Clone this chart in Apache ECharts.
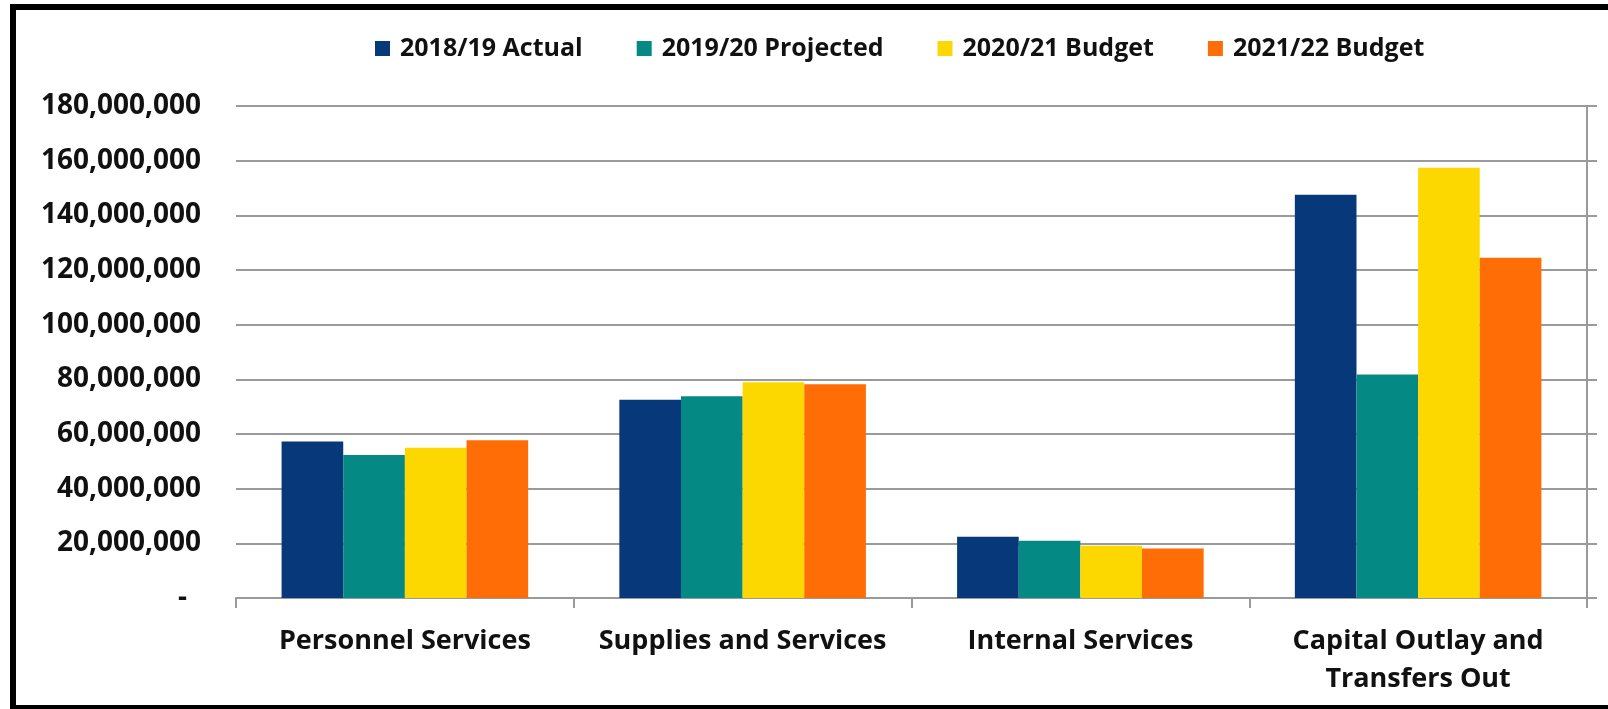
<!DOCTYPE html>
<html>
<head>
<meta charset="utf-8">
<title>Expenditures by Category</title>
<script src="https://cdn.jsdelivr.net/npm/echarts@6/dist/echarts.min.js"></script>
<style>
  html, body { margin: 0; padding: 0; background: #ffffff; }
  #chart { width: 1608px; height: 709px; }
</style>
</head>
<body>
<div id="chart"></div>
<script>
// Expenditure categories (x axis)
const categories = [
  'Personnel Services',
  'Supplies and Services',
  'Internal Services',
  'Capital Outlay and\nTransfers Out'
];

// Series names shown in the legend
const seriesNames = ['2018/19 Actual', '2019/20 Projected', '2020/21 Budget', '2021/22 Budget'];

// Amounts per category, one array per fiscal year
const actual1819    = [57300000, 72500000, 22400000, 147500000];
const projected1920 = [52300000, 73800000, 20900000, 81800000];
const budget2021    = [55000000, 78900000, 19100000, 157400000];
const budget2122    = [57700000, 78200000, 18100000, 124500000];

// Value axis range
const yMin = 0;
const yMax = 180000000;
const yStep = 20000000;

const seriesData = [actual1819, projected1920, budget2021, budget2122];
const colors = ['#07387A', '#048985', '#FDD800', '#FE6D06'];

const FONT = "'Open Sans', 'Liberation Sans', sans-serif";
const gridColor = '#9a9a9a';

const chart = echarts.init(document.getElementById('chart'), null, { renderer: 'canvas' });

const option = {
  backgroundColor: '#ffffff',
  animation: false,
  color: colors,
  graphic: [{
    type: 'rect',
    silent: true,
    z: 100,
    shape: { x: 13, y: 7, width: 1620, height: 701 },
    style: { fill: 'none', stroke: '#000000', lineWidth: 6 }
  }],
  legend: {
    left: 370,
    top: 31,
    icon: 'rect',
    itemWidth: 15,
    itemHeight: 15,
    itemGap: 54,
    selectedMode: false,
    textStyle: {
      fontFamily: FONT,
      fontWeight: 'bold',
      fontSize: 25,
      color: '#111111',
      padding: [0, 0, 0, 5]
    },
    data: seriesNames
  },
  grid: {
    left: 236,
    right: 21,
    top: 106,
    bottom: 111,
    containLabel: false
  },
  xAxis: {
    type: 'category',
    data: categories,
    boundaryGap: true,
    axisLine: { show: true, lineStyle: { color: gridColor, width: 2 } },
    axisTick: { show: true, alignWithLabel: false, length: 10, lineStyle: { color: gridColor, width: 2 } },
    axisLabel: {
      interval: 0,
      margin: 24,
      fontFamily: FONT,
      fontWeight: 'bold',
      fontSize: 27,
      lineHeight: 38,
      color: '#111111'
    }
  },
  yAxis: [{
    type: 'value',
    position: 'left',
    min: yMin,
    max: yMax,
    interval: yStep,
    axisLine: { show: false },
    axisTick: { show: false },
    splitLine: { show: true, lineStyle: { color: gridColor, width: 2 } },
    axisLabel: {
      margin: 35,
      fontFamily: FONT,
      fontWeight: 'bold',
      fontSize: 28,
      color: '#111111',
      formatter: function (v) {
        if (v === 0) return '{z|-}';
        return v.toLocaleString('en-US');
      },
      rich: {
        z: {
          fontFamily: FONT,
          fontWeight: 'bold',
          fontSize: 28,
          color: '#111111',
          padding: [0, 14, 0, 0]
        }
      }
    }
  }, {
    type: 'value',
    position: 'right',
    min: yMin,
    max: yMax,
    interval: yStep,
    axisLine: { show: true, lineStyle: { color: gridColor, width: 2 } },
    axisTick: { show: true, inside: false, length: 10, lineStyle: { color: gridColor, width: 2 } },
    axisLabel: { show: false },
    splitLine: { show: false }
  }],
  series: seriesNames.map(function (name, i) {
    return {
      name: name,
      type: 'bar',
      yAxisIndex: 0,
      data: seriesData[i],
      barGap: '0%',
      barCategoryGap: '27%',
      itemStyle: { color: colors[i] }
    };
  })
};

chart.setOption(option);
</script>
</body>
</html>
